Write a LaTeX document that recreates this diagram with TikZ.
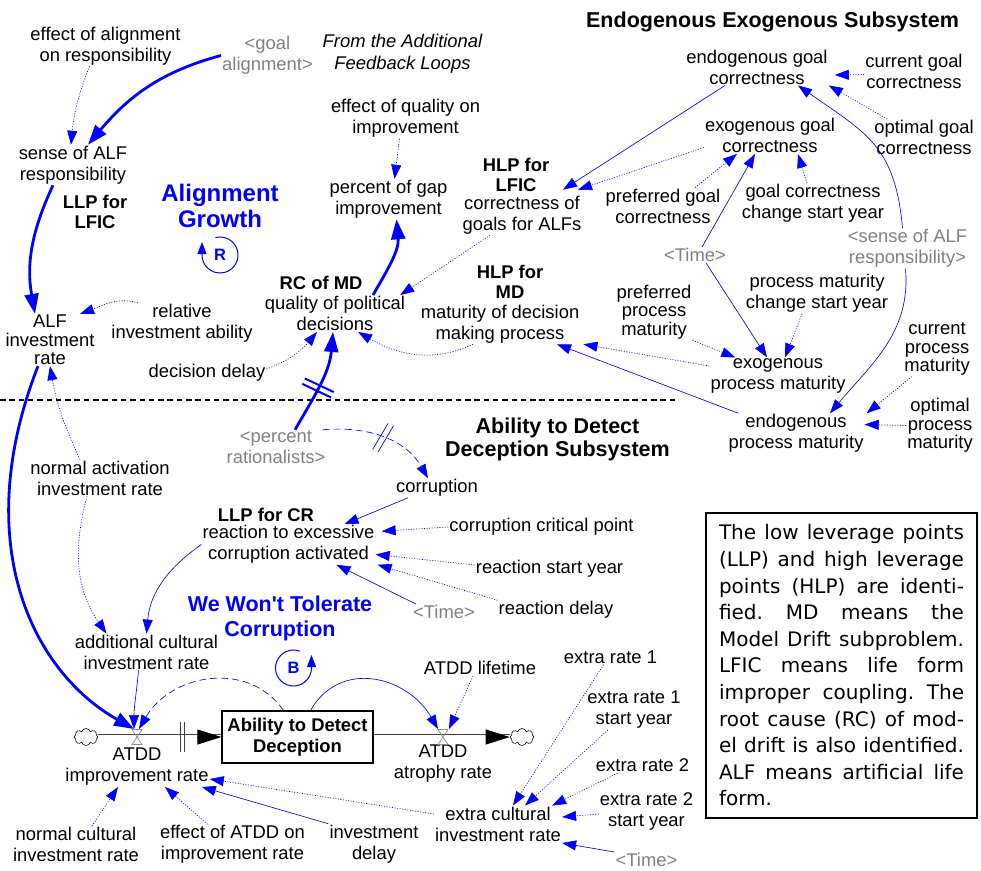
\documentclass[tikz,border=0pt]{standalone}
\usepackage{fontspec}
\setmainfont{Liberation Sans}
\newfontfamily\notefont{DejaVu Sans}
\usetikzlibrary{arrows.meta,shapes.symbols,decorations.markings}
\definecolor{Shadow}{rgb}{0.5,0.5,0.5}

\begin{document}
\begin{tikzpicture}[x=1pt,y=1pt,
var/.style={font=\fontsize{18.4}{21}\selectfont,align=center,inner sep=1pt},
var3/.style={var,font=\fontsize{18.4}{18.5}\selectfont},
ghost/.style={var,text=Shadow},
lbl/.style={var,font=\fontsize{18.4}{20}\selectfont\bfseries},
ttl/.style={var,font=\fontsize{21.5}{23}\selectfont\bfseries},
loopname/.style={var,text=blue,font=\fontsize{24}{26}\selectfont\bfseries},
sign/.style={inner sep=0pt,text=blue,font=\fontsize{16.5}{18}\selectfont\bfseries},
loopsign/.style={draw=blue,line width=1pt,-{Triangle[length=12pt,width=9pt]}},
link/.style={draw=blue,line width=0.65pt,-{Triangle[length=14pt,width=10pt]}},
info/.style={link,dash pattern=on 1pt off 1.6pt},
dlink/.style={link,dash pattern=on 7pt off 4pt},
major/.style={draw=blue,line width=2.8pt,-{Triangle[length=20pt,width=14pt]}},
delay/.style={postaction={decorate,decoration={markings,mark=at position 0.45 with
  {\draw[blue,solid,-,line width=2pt] (-3pt,-16pt) -- (-3pt,16pt) (3pt,-16pt) -- (3pt,16pt);}}}},
thindelay/.style={postaction={decorate,decoration={markings,mark=at position 0.5 with
  {\draw[blue,solid,-,line width=0.7pt] (-5pt,-15pt) -- (-1pt,15pt) (1pt,-15pt) -- (5pt,15pt);}}}},
stock/.style={draw,line width=1.2pt,minimum width=151pt,minimum height=52pt,inner sep=1pt,align=center,font=\fontsize{18.4}{21}\selectfont\bfseries},
src/.style={cloud,cloud puffs=8,aspect=1.5,draw,line width=0.6pt,minimum width=24pt,minimum height=17pt,inner sep=0pt},
pipe/.style={draw=black!75,line width=0.8pt,double,double distance=5pt},
flowtip/.style={draw=black,line width=0.8pt,-{Triangle[length=24pt,width=15pt]}},
valve/.style={draw=black!45,line width=0.7pt},
sep/.style={draw=black,line width=1.3pt,dash pattern=on 5.5pt off 3.8pt},
note/.style={draw,line width=1.2pt,minimum width=271pt,minimum height=305pt,inner sep=0pt,text width=245pt,align=justify,font=\notefont\fontsize{20}{26.6}\selectfont}]

\useasboundingbox (0,0) rectangle (981,-870);

\node[var] (ea) at (105.5,-46) {effect of alignment\\on responsibility};
\node[ghost] (ga) at (267.5,-55.5) {<goal\\alignment>};
\node[var,font=\fontsize{18.4}{21.7}\selectfont\itshape] (fa) at (402.5,-54) {From the Additional\\Feedback Loops};
\node[var] (sa) at (73,-165) {sense of ALF\\responsibility};
\node[lbl] (llpa) at (95,-211.5) {LLP for\\LFIC};
\node[loopname] (ag) at (220,-206) {Alignment\\Growth};
\node[sign] (rs) at (220,-255) {R};
\node[var] (eq) at (405.5,-118.5) {effect of quality on\\improvement};
\node[var] (pg) at (388.5,-199) {percent of gap\\improvement};
\node[lbl] (hlpa) at (516,-175) {HLP for\\LFIC};
\node[var] (cg) at (522,-215) {correctness of\\goals for ALFs};
\node[lbl] (rc) at (321,-283) {RC of MD};
\node[var] (qp) at (335,-313.5) {quality of political\\decisions};
\node[lbl] (hlpb) at (510,-281.5) {HLP for\\MD};
\node[var] (md) at (500,-324) {maturity of decision\\making process};
\node[var3] (ai) at (50,-340) {ALF\\investment\\rate};
\node[var] (ria) at (182,-323) {relative\\investment ability};
\node[var] (dd) at (207,-373) {decision delay};

\node[ttl] (ttla) at (772.5,-21.5) {Endogenous Exogenous Subsystem};
\node[var] (egc) at (757,-67) {endogenous goal\\correctness};
\node[var] (cgc) at (914,-71.5) {current goal\\correctness};
\node[var] (ogc) at (924,-137.5) {optimal goal\\correctness};
\node[var] (xgc) at (770,-135.5) {exogenous goal\\correctness};
\node[var] (pgc) at (663,-206) {preferred goal\\correctness};
\node[var] (gcs) at (813,-203.5) {goal correctness\\change start year};
\node[ghost] (tic) at (695,-255) {<Time>};
\node[ghost] (sar) at (907.5,-248.5) {<sense of ALF\\responsibility>};
\node[var] (pms) at (817,-293.5) {process maturity\\change start year};
\node[var3] (ppm) at (654,-312) {preferred\\process\\maturity};
\node[var] (xpm) at (778,-376) {exogenous\\process maturity};
\node[var3] (cpm) at (937,-349) {current\\process\\maturity};
\node[var] (epm) at (796,-433.5) {endogenous\\process maturity};
\node[var3] (opm) at (940,-425.5) {optimal\\process\\maturity};

\coordinate (sepl) at (0,-400);
\coordinate (sepr) at (676,-400);
\draw[sep] (sepl) -- (sepr);

\node[ghost] (pr) at (276,-447.5) {<percent\\rationalists>};
\node[ttl] (ttlb) at (557.5,-439) {Ability to Detect\\Deception Subsystem};
\node[var] (co) at (437,-488) {corruption};
\node[var] (nai) at (100,-478) {normal activation\\investment rate};
\node[lbl] (llpc) at (266,-515) {LLP for CR};
\node[var] (re) at (288.5,-544.5) {reaction to excessive\\corruption activated};
\node[var] (ccp) at (541.5,-527) {corruption critical point};
\node[var] (rsy) at (549.5,-569) {reaction start year};
\node[ghost] (tia) at (444,-612) {<Time>};
\node[var] (rd) at (556,-610) {reaction delay};
\node[loopname,font=\fontsize{21.5}{25}\selectfont\bfseries] (wwt) at (280,-618.5) {We Won\textquotesingle t Tolerate\\Corruption};
\node[sign] (bs) at (293.5,-668) {B};
\node[var] (acr) at (146.5,-652) {additional cultural\\investment rate};
\node[var] (lt) at (480,-668) {ATDD lifetime};

\node[src] (cla) at (86,-737) {};
\node[stock] (atdd) at (297.5,-737) {Ability to Detect\\Deception};
\node[src] (clb) at (522,-737) {};
\coordinate (vimp) at (137,-737);
\coordinate (vatr) at (443,-737);
\node[var] (imp) at (137,-767) {ATDD\\improvement rate};
\node[var] (atr) at (443,-764) {ATDD\\atrophy rate};

\node[var] (er1) at (610.5,-657) {extra rate 1};
\node[var] (er1s) at (634,-710) {extra rate 1\\start year};
\node[var] (er2) at (642.5,-765.5) {extra rate 2};
\node[var] (er2s) at (646.5,-811) {extra rate 2\\start year};
\node[var] (ecr) at (498,-824) {extra cultural\\investment rate};
\node[ghost] (tib) at (646.5,-860) {<Time>};
\node[var] (nci) at (76,-844.5) {normal cultural\\investment rate};
\node[var] (eai) at (232.5,-844.5) {effect of ATDD on\\improvement rate};
\node[var] (idl) at (374,-844) {investment\\delay};

\node[note] (nt) at (841.5,-665.5) {\frenchspacing\tolerance=9999 The low leverage points\linebreak (LLP) and high leverage\linebreak points (HLP) are identi-\linebreak fied. MD means the\linebreak Model Drift subproblem.\linebreak LFIC means life form\linebreak improper coupling. The\linebreak root cause (RC) of mod-\linebreak el drift is also identified.\linebreak ALF means artificial life\linebreak form.};

\draw[pipe] (cla) -- (atdd);
\draw[pipe] (atdd) -- (clb);
\draw[flowtip] ([xshift=-24pt]atdd.west) -- (atdd.west);
\draw[flowtip] ([xshift=-24pt]clb.west) -- (clb.west);
\draw[valve,shift={(vimp)}] (-5,7.5) -- (5,7.5) -- (-5,-7.5) -- (5,-7.5) -- cycle;
\draw[valve,shift={(vatr)}] (-5,7.5) -- (5,7.5) -- (-5,-7.5) -- (5,-7.5) -- cycle;
\draw[draw=black!75,line width=0.8pt,shift={(vimp)}] (43,15) -- (43,-15) (47,15) -- (47,-15);

\draw[loopsign] ([shift={(105:18)}]rs.center) arc[start angle=105,end angle=-180,radius=18pt] -- ++(0,13);
\draw[loopsign] ([shift={(70:18)}]bs.center) arc[start angle=70,end angle=360,radius=18pt] -- ++(0,13);

\draw[info] ([xshift=-16pt]ea.south) to[bend right=8] ([xshift=-2pt]sa.north);
\draw[major] (ga.west) to[out=195,in=50] ([xshift=15pt]sa.north);
\draw[major] ([xshift=-20pt]sa.south) to[out=245,in=100] ([xshift=-15pt]ai.north);
\draw[info] ([xshift=-44pt]ria.north) to[out=165,in=20] ([xshift=30pt]ai.north);
\draw[major] ([xshift=-12pt]ai.south) .. controls (-30,-540) and (30,-670) .. ([xshift=-3pt,yshift=8pt]vimp);
\draw[info] ([xshift=-6pt]eq.south) -- ([xshift=6pt]pg.north);
\draw[major] ([xshift=38pt]qp.north) to[out=60,in=275] ([xshift=8pt]pg.south);
\draw[info] ([xshift=-32pt]cg.south) -- ([xshift=-6pt]qp.north east);
\draw[info] ([xshift=-27pt]md.south) to[out=205,in=-30] ([xshift=23pt]qp.south);
\draw[info] ([yshift=4pt]dd.east) to[out=20,in=230] ([xshift=-18pt]qp.south);
\draw[major,delay] ([xshift=19pt]pr.north) to[out=60,in=265] ([xshift=-2pt]qp.south);

\draw[link] ([xshift=-32pt]egc.south) -- ([xshift=41pt,yshift=5pt]cg.north);
\draw[info] ([yshift=-12pt]xgc.west) -- ([xshift=56pt,yshift=5pt]cg.north);
\draw[info] ([yshift=-3pt]cgc.west) -- ([xshift=6pt,yshift=-8pt]egc.east);
\draw[info] ([xshift=14pt]ogc.north west) -- (egc.south east);
\draw[link] ([xshift=-5pt]sar.north) to[out=95,in=-35,looseness=1.2] ([xshift=41pt]egc.south);
\draw[link] ([xshift=-2pt]sar.south) to[out=-85,in=50] ([xshift=34pt]epm.north);
\draw[info] ([xshift=32pt]pgc.north) -- ([xshift=-33pt]xgc.south);
\draw[link] ([xshift=7pt]tic.north) -- ([xshift=-15pt]xgc.south);
\draw[info] ([xshift=-6pt]gcs.north) -- ([xshift=28pt]xgc.south);
\draw[link] ([xshift=11pt]tic.south) -- ([xshift=-11pt]xpm.north);
\draw[info] ([xshift=-15pt]pms.south) -- ([xshift=7pt]xpm.north);
\draw[info] (ppm.south east) -- ([xshift=26pt]xpm.north west);
\draw[info] ([yshift=10pt]xpm.west) -- ([xshift=3pt]md.south east);
\draw[link] ([xshift=11pt]epm.north west) -- ([xshift=57pt]md.south);
\draw[info] ([xshift=-25pt]cpm.south) -- ([xshift=2pt]epm.north east);
\draw[info] (opm.west) -- ([yshift=9pt]epm.east);

\draw[info] ([xshift=-20pt]nai.north) to[out=115,in=280] (ai.south);
\draw[info] ([xshift=-13pt]nai.south) to[out=255,in=125] ([xshift=-40pt]acr.north);
\draw[dlink,thindelay] ([xshift=-4pt]pr.north east) to[out=5,in=120] ([xshift=-9pt]co.north);
\draw[link] ([xshift=-29pt]co.south) -- ([xshift=56pt]re.north);
\draw[info] (ccp.west) -- ([xshift=6pt,yshift=-7pt]re.north east);
\draw[info] ([yshift=4pt]rsy.west) -- ([yshift=-10pt]re.east);
\draw[info] (rd.north west) -- ([xshift=2pt]re.south east);
\draw[link] ([xshift=4pt]tia.north west) -- ([xshift=48pt]re.south);
\draw[link] (re.west) to[out=215,in=85] (acr.north);
\draw[link] ([xshift=-8pt]acr.south) to[out=265,in=90] ([xshift=-3pt,yshift=8pt]vimp);

\draw[dlink] ([xshift=-14pt]atdd.north) to[out=125,in=60,looseness=1.1] ([xshift=2pt,yshift=8pt]vimp);
\draw[link] ([xshift=13pt]atdd.north) to[out=60,in=120,looseness=1.2] ([xshift=-5pt,yshift=8pt]vatr);
\draw[info] ([xshift=-7pt]lt.south) -- ([xshift=6pt,yshift=8pt]vatr);
\draw[info] ([xshift=16pt]nci.north) -- ([xshift=-19pt]imp.south);
\draw[info] ([xshift=-25pt]eai.north) -- ([xshift=28pt]imp.south);
\draw[link] (idl.north west) -- ([xshift=-8pt]imp.south east);
\draw[info] ([yshift=10pt]ecr.west) -- ([yshift=-12pt]imp.east);
\draw[info] ([xshift=-7pt]er1.south) -- ([xshift=15pt]ecr.north);
\draw[info] ([xshift=-26pt]er1s.south) -- ([xshift=27pt]ecr.north);
\draw[info] ([xshift=-25pt]er2.south) -- ([xshift=-10pt]ecr.north east);
\draw[info] ([yshift=-3pt]er2s.west) -- ([yshift=7pt]ecr.east);
\draw[link] (tib.north west) -- ([yshift=-19pt]ecr.east);

\end{tikzpicture}
\end{document}
